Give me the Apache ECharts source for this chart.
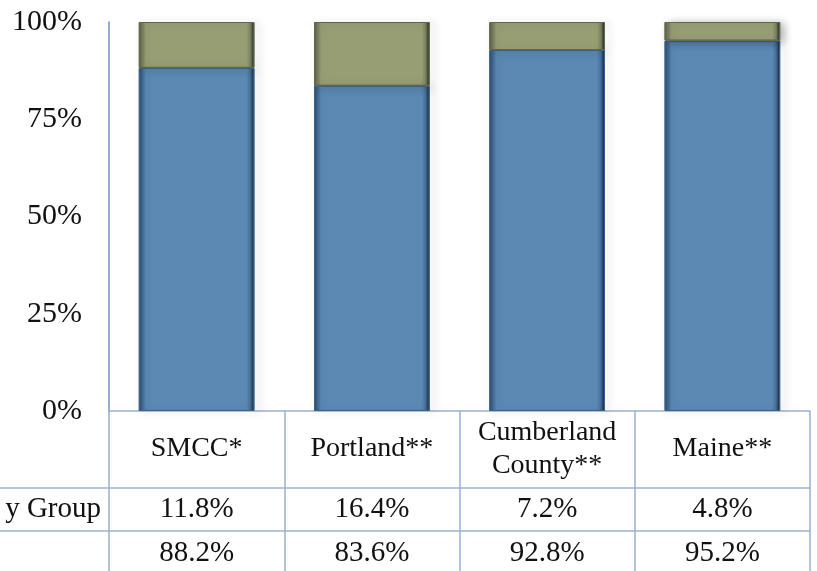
<!DOCTYPE html>
<html>
<head>
<meta charset="utf-8">
<script src="https://cdn.jsdelivr.net/npm/echarts@6/dist/echarts.min.js"></script>
<style>
html,body{margin:0;padding:0;background:#fff;}
#main{width:817px;height:571px;}
</style>
</head>
<body>
<div id="main"></div>
<script>
var categories = ['SMCC*', 'Portland**', 'Cumberland\nCounty**', 'Maine**'];
var groupLabel = 'y Group';
var groupValues = [11.8, 16.4, 7.2, 4.8];
var otherValues = [88.2, 83.6, 92.8, 95.2];
var yTicks = [0, 25, 50, 75, 100];

var FONT = '"Liberation Serif", "DejaVu Serif", serif';
var LINE = '#9BB0CD';

function bevel(dark, mid, edge) {
  return {
    type: 'linear', x: 0, y: 0, x2: 1, y2: 0,
    colorStops: [
      {offset: 0, color: edge},
      {offset: 0.035, color: dark},
      {offset: 0.06, color: mid},
      {offset: 0.93, color: mid},
      {offset: 0.965, color: dark},
      {offset: 1, color: '#111a22'}
    ]
  };
}

var chart = echarts.init(document.getElementById('main'), null, {renderer: 'canvas'});
var option = {
  animation: false,
  grid: {left: 109, right: 7, top: 22, bottom: 160, containLabel: false},
  xAxis: {
    type: 'category',
    data: categories,
    boundaryGap: true,
    axisLine: {show: true, lineStyle: {color: LINE, width: 1.5}},
    axisTick: {show: true, alignWithLabel: false, length: 165, lineStyle: {color: LINE, width: 1.5}},
    axisLabel: {
      fontFamily: FONT, fontSize: 28, color: '#111', margin: 38,
      verticalAlign: 'middle', lineHeight: 33, interval: 0
    }
  },
  yAxis: {
    type: 'value', min: yTicks[0], max: yTicks[yTicks.length - 1], interval: 25,
    axisLine: {show: true, lineStyle: {color: '#6F93C0', width: 1.5}},
    axisTick: {show: false},
    splitLine: {show: false},
    axisLabel: {formatter: '{value}%', fontFamily: FONT, fontSize: 30, color: '#111', margin: 27}
  },
  series: [
    {
      type: 'bar', stack: 'a', data: otherValues, barWidth: '66%',
      itemStyle: {
        color: bevel('#456f99', '#5B89B4', '#2c4a6b'),
        borderColor: '#3d6187', borderWidth: 1,
        shadowBlur: 8, shadowOffsetX: 4, shadowOffsetY: 1, shadowColor: 'rgba(0,0,0,0.3)'
      }
    },
    {
      type: 'bar', stack: 'a', data: groupValues, barWidth: '66%',
      itemStyle: {
        color: bevel('#7c8260', '#989E74', '#5d6247'),
        borderColor: '#62674a', borderWidth: 1,
        shadowBlur: 8, shadowOffsetX: 4, shadowOffsetY: 1, shadowColor: 'rgba(0,0,0,0.3)'
      }
    }
  ]
};
chart.setOption(option);

function buildTable() {
  var els = [];
  var yTop = chart.convertToPixel({yAxisIndex: 0}, 0);
  var rowH1 = 77, rowH2 = 43;
  var y1 = yTop + rowH1, y2 = y1 + rowH2;
  var xRight = chart.getWidth() - 7;
  [y1, y2].forEach(function (y) {
    els.push({type: 'line', shape: {x1: 0, y1: y, x2: xRight, y2: y}, style: {stroke: LINE, lineWidth: 1.5}});
  });
  var textStyle = function (x, y, t, align) {
    return {type: 'text', x: x, y: y, style: {text: t, font: '29px ' + FONT, fill: '#111', align: align || 'center', verticalAlign: 'middle'}};
  };
  categories.forEach(function (c, i) {
    var x = chart.convertToPixel({xAxisIndex: 0}, i);
    els.push(textStyle(x, y1 + rowH2 / 2, groupValues[i].toFixed(1) + '%'));
    els.push(textStyle(x, y2 + 22, otherValues[i].toFixed(1) + '%'));
  });
  var gx = chart.convertToPixel({xAxisIndex: 0}, 0) - (chart.convertToPixel({xAxisIndex: 0}, 1) - chart.convertToPixel({xAxisIndex: 0}, 0)) / 2;
  els.push(textStyle(gx - 8, y1 + rowH2 / 2, groupLabel, 'right'));
  chart.setOption({graphic: {elements: els}});
}
buildTable();
</script>
</body>
</html>
